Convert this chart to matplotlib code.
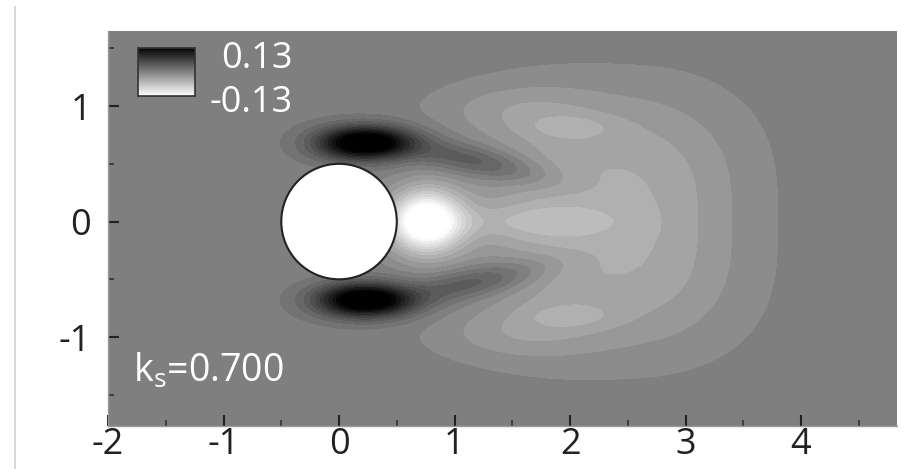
import numpy as np
import matplotlib
matplotlib.use("Agg")
import matplotlib.pyplot as plt
from matplotlib.patches import Circle
from matplotlib.lines import Line2D

plt.rcParams['font.family'] = ['Open Sans', 'DejaVu Sans']
plt.rcParams['axes.unicode_minus'] = False

# field components (centre, amplitude, widths, shape exponents, tilt in degrees)
blob_x    = [0.22, 0.22, 0.75, 1.55, 2.32, 1.20, 1.20, 1.50, 1.50, 2.00, 2.00, 1.90]
blob_y    = [0.68, -0.68, 0.00, 0.00, 0.00, 0.52, -0.52, 0.98, -0.98, 0.82, -0.82, 0.00]
blob_amp  = [0.17, 0.17, -0.17, -0.025, -0.047, 0.048, 0.048, -0.018, -0.018, -0.018, -0.018, -0.005]
blob_sx   = [0.40, 0.40, 0.32, 0.70, 1.12, 0.62, 0.62, 0.70, 0.70, 0.38, 0.38, 0.60]
blob_sy   = [0.14, 0.14, 0.27, 0.17, 1.08, 0.13, 0.13, 0.22, 0.22, 0.11, 0.11, 0.15]
blob_px   = [2, 2, 2, 2, 2.5, 2, 2, 2, 2, 2, 2, 2]
blob_py   = [2, 2, 2, 2, 3, 2, 2, 2, 2, 2, 2, 2]
blob_tilt = [0, 0, 0, 0, 0, -12, 12, 0, 0, 0, 0, 0]

vmin, vmax = -0.13, 0.13
n_levels = 22
cyl_r = 0.5
xticks = [-2, -1, 0, 1, 2, 3, 4]
yticks = [-1, 0, 1]
label = r'k$_\mathregular{s}$=0.700'

x = np.linspace(-2, 4.83, 800)
y = np.linspace(-1.77, 1.65, 420)
X, Y = np.meshgrid(x, y)
Z = np.zeros_like(X)
for cx, cy, a, sx, sy, px, py, t in zip(blob_x, blob_y, blob_amp, blob_sx, blob_sy,
                                         blob_px, blob_py, blob_tilt):
    th = np.deg2rad(t)
    u = (X - cx) * np.cos(th) + (Y - cy) * np.sin(th)
    v = -(X - cx) * np.sin(th) + (Y - cy) * np.cos(th)
    Z += a * np.exp(-np.abs(u / sx) ** px - np.abs(v / sy) ** py)
Z = np.where(X ** 2 + Y ** 2 < cyl_r ** 2, np.nan, Z)

fig = plt.figure(figsize=(9.22, 4.69), dpi=100)
ax = fig.add_axes([108 / 922, 43 / 469, 789 / 922, 395 / 469])
levels = np.linspace(vmin, vmax, n_levels)
ax.contourf(X, Y, Z, levels=levels, cmap='gray_r', vmin=vmin, vmax=vmax, extend='both')
ax.add_patch(Circle((0, 0), cyl_r, facecolor='white', edgecolor='#222222', lw=1.5, zorder=3))
ax.set_xlim(-2, 4.83)
ax.set_ylim(-1.77, 1.65)
ax.set_aspect('auto')

ax.set_xticks(xticks)
ax.set_yticks(yticks)
ax.set_xticks(np.arange(-1.5, 4.9, 1.0), minor=True)
ax.set_yticks([-1.5, -0.5, 0.5, 1.5], minor=True)
ax.tick_params(which='major', direction='in', length=8, width=1.5, color='#222222',
               labelsize=26, labelcolor='#222222')
ax.tick_params(axis='x', which='major', pad=1)
ax.tick_params(axis='y', which='major', pad=12)
ax.tick_params(which='minor', direction='in', length=4, width=1.2, color='#333333')
for s in ax.spines.values():
    s.set_color('#9a9a9a')
    s.set_linewidth(1.0)
ax.spines['top'].set_visible(False)
ax.spines['right'].set_visible(False)

fig.text(133 / 922, 1 - 382 / 469, label, color='white', fontsize=27,
         ha='left', va='baseline')

# colour legend inside the plot
cax = fig.add_axes([138 / 922, 1 - 96 / 469, 57 / 922, 48 / 469])
cax.imshow(np.linspace(vmax, vmin, 200)[:, None], aspect='auto', cmap='gray_r',
           vmin=vmin, vmax=vmax)
cax.set_xticks([])
cax.set_yticks([])
for s in cax.spines.values():
    s.set_color('#333333')
    s.set_linewidth(1.2)
fig.text(293 / 922, 1 - 68 / 469, f'{vmax:.2f}', color='white', fontsize=26,
         ha='right', va='baseline')
fig.text(293 / 922, 1 - 112 / 469, f'{vmin:.2f}', color='white', fontsize=26,
         ha='right', va='baseline')

fig.add_artist(Line2D([15 / 922, 15 / 922], [0, 1 - 7 / 469], color='#d0d0d0', lw=1.2))

fig.savefig('out.png', dpi=100, facecolor='white')
